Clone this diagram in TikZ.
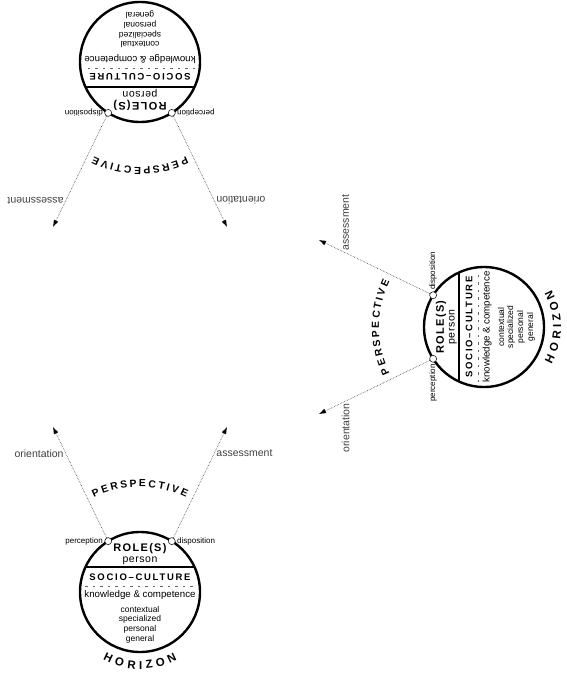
\documentclass[tikz,border=0pt]{standalone}
\usepackage{fontspec}
\setmainfont{Liberation Sans}
\newfontfamily\lsRole[LetterSpace=12]{Liberation Sans}
\newfontfamily\lsSoc[LetterSpace=18]{Liberation Sans}
\newfontfamily\lsPers[LetterSpace=5]{Liberation Sans}
\usetikzlibrary{arrows.meta}
\tikzset{
  ring/.style={line width=2.4pt},
  divider/.style={line width=2pt},
  dashline/.style={line width=0.6pt, black!60, dash pattern=on 2.5pt off 5pt},
  knob/.style={circle, draw, line width=0.5pt, fill=white, inner sep=0pt, minimum size=7pt},
  ray/.style={densely dotted, line width=0.6pt, black!75, -{Latex[length=7pt,width=5pt,color=black]}},
  lbl/.style={font=\fontsize{10.5}{12}\selectfont, inner sep=2pt},
  tiny/.style={font=\fontsize{8}{9}\selectfont, inner sep=1.5pt},
  level/.style={font=\fontsize{8.5}{10}\selectfont, inner sep=0pt},
  persp/.style={font=\bfseries\fontsize{10.3}{12}\selectfont, inner sep=0pt},
  hor/.style={font=\bfseries\fontsize{11.5}{13}\selectfont, inner sep=0pt},
  persondiag/.pic={
    \draw[ring] (0,0) circle (60pt);
    \draw[divider] (-54.5,25) -- (54.5,25);
    \draw[dashline] (-55,6) -- (55,6);
    \node[knob] (perc) at (122:60pt) {};
    \node[knob] (disp) at (58:60pt) {};
    \coordinate (tipO) at (-87,165);
    \coordinate (tipA) at (87,165);
    \draw[ray] (perc) -- node[pos=.76, left, lbl] (lo) {orientation} (tipO);
    \draw[ray] (disp) -- node[pos=.76, right, lbl] (la) {assessment} (tipA);
    \node[tiny, anchor=east] (lp) at (perc.west) {perception};
    \node[tiny, anchor=west] (ld) at (disp.east) {disposition};
    \node[font=\lsRole\bfseries\fontsize{11}{13}\selectfont, inner sep=0pt] (role) at (0,43) {ROLE(S)};
    \node[font=\lsPers\fontsize{10.5}{12}\selectfont, inner sep=0pt] (pers) at (0,31) {person};
    \node[font=\lsSoc\bfseries\fontsize{9.5}{11}\selectfont, inner sep=0pt] (soc) at (0,15) {SOCIO–CULTURE};
    \node[font=\fontsize{9.7}{11}\selectfont, inner sep=0pt] (kc) at (0,-3) {knowledge \& competence};
    \node[level] (l1) at (0,-17) {contextual};
    \node[level] (l2) at (0,-27) {specialized};
    \node[level] (l3) at (0,-37) {personal};
    \node[level] (l4) at (0,-47) {general};
    \foreach \l/\a [count=\i] in {P/114.2,E/108.9,R/103.8,S/98.6,P/93.7,E/88.7,C/83.5,T/78.5,I/74.9,V/71.1,E/65.8}
      \node[persp, rotate=\a-90, anchor=base] (pp\i) at (\a:105pt) {\l};
  },
  horizonlbl/.pic={
    \foreach \l/\a [count=\i] in {H/244.3,O/253.8,R/263.4,I/270.5,Z/277.2,O/286.2,N/295.7}
      \node[hor, rotate=\a+90, anchor=base] (hz\i) at (\a:77pt) {\l};
  }
}
\begin{document}
\begin{tikzpicture}[x=1pt,y=1pt]
  \useasboundingbox (0,0) rectangle (567,-674);
  \pic[transform shape] (B) at (140,-592) {persondiag};
  \pic[transform shape] (BH) at (140,-592) {horizonlbl};
  \pic[rotate=180, transform shape] (T) at (140,-62) {persondiag};
  \pic[rotate=90, transform shape] (R) at (484,-327) {persondiag};
  \pic[rotate=90, transform shape] (RH) at (484,-327) {horizonlbl};
\end{tikzpicture}
\end{document}
